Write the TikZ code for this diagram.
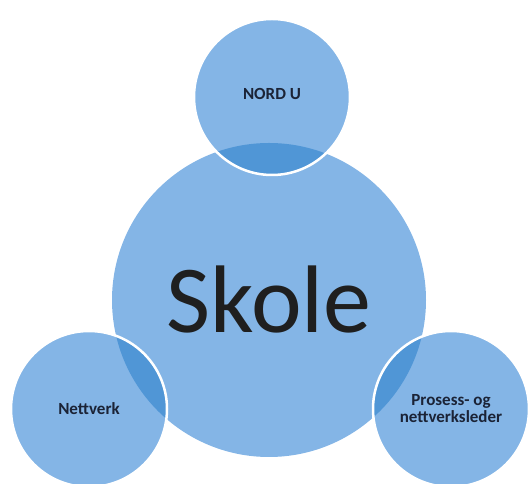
\documentclass[tikz,border=0pt]{standalone}
\usepackage{fontspec}
\setmainfont{Carlito}
\definecolor{bubble}{HTML}{84B5E6}
\definecolor{overlap}{HTML}{5096D6}
\definecolor{labeltext}{HTML}{1B2336}
\begin{document}
\begin{tikzpicture}[
            x=1pt, y=1pt,
            hub/.style={circle, fill=bubble, minimum size=314pt, inner sep=0pt, font=\fontsize{96}{96}\selectfont, text=black!88},
            spoke/.style={circle, fill=bubble, minimum size=156pt, inner sep=0pt, align=center, font=\bfseries\fontsize{17}{17}\selectfont, text=labeltext},
            rim/.style={draw=white, line width=2.5pt}
            ]
        \useasboundingbox (0,0) rectangle (528,484);
        \node[hub] (skole) at (269,184) {Skole};
        \node[spoke] (nord) at (272,387) {\raisebox{6pt}{NORD U}};
        \node[spoke] (nettverk) at (89,75) {Nettverk};
        \node[spoke] (leder) at (451,75) {Prosess- og\\nettverksleder};
        % darker overlap
        \begin{scope}
            \clip (skole.center) circle (157);
            \fill[overlap] (nord.center) circle (78);
            \fill[overlap] (nettverk.center) circle (78);
            \fill[overlap] (leder.center) circle (78);
        \end{scope}
        \draw[rim] (nord.center) circle (78);
        \draw[rim] (nettverk.center) circle (78);
        \draw[rim] (leder.center) circle (78);
\end{tikzpicture}
\end{document}
